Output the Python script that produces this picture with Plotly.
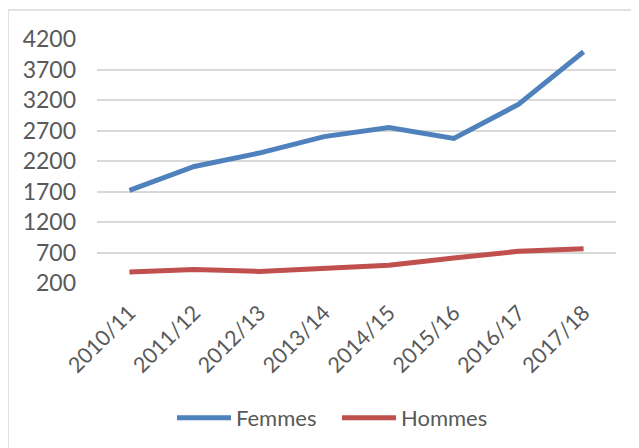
import plotly.graph_objects as go

categories = ["2010/11", "2011/12", "2012/13", "2013/14", "2014/15", "2015/16", "2016/17", "2017/18"]
femmes = [1720, 2110, 2330, 2600, 2750, 2570, 3130, 3990]
hommes = [380, 420, 390, 440, 490, 610, 720, 760]
y_ticks = [200, 700, 1200, 1700, 2200, 2700, 3200, 3700, 4200]

FONT = "Lato"
GRAY = "#595959"

fig = go.Figure()
fig.add_trace(go.Scatter(x=categories, y=femmes, mode="lines", name="Femmes",
                         line=dict(color="#4F81BD", width=5)))
fig.add_trace(go.Scatter(x=categories, y=hommes, mode="lines", name="Hommes",
                         line=dict(color="#C0504D", width=5)))

# page body has an 8px margin: work in screen pixels and offset
OFF = 8
W, H = 639, 448
PL, PT, PW, PH = 97, 39, 519, 244          # plot area in screen px
L, T = PL - OFF, PT - OFF
R = W - L - PW
B = H - T - PH

def px_x(x):
    return (x - PL) / PW

def px_y(y):
    return (PT + PH - y) / PH

fig.update_layout(
    width=W, height=H,
    margin=dict(l=L, r=R, t=T, b=B),
    paper_bgcolor="white", plot_bgcolor="white",
    font=dict(family=FONT, size=22, color=GRAY),
    showlegend=True,
    legend=dict(orientation="h", x=px_x(172), xanchor="left", y=px_y(418), yanchor="middle",
                font=dict(family=FONT, size=22, color=GRAY), itemwidth=54,
                entrywidth=96, entrywidthmode="pixels",
                traceorder="normal", bgcolor="rgba(0,0,0,0)"),
    xaxis=dict(type="category", range=[-0.5, 7.5], showgrid=False, showline=False, zeroline=False,
               tickangle=-45, tickfont=dict(family=FONT, size=21.5, color=GRAY),
               ticklabelstandoff=12),
    yaxis=dict(range=[200, 4200], tickvals=y_ticks, showgrid=True, gridcolor="#D9D9D9", gridwidth=1.5,
               zeroline=False, showline=False, tickfont=dict(family=FONT, size=23, color=GRAY),
               ticklabelstandoff=20),
    shapes=[dict(type="rect", xref="paper", yref="paper",
                 x0=px_x(8), x1=px_x(660), y0=px_y(470), y1=px_y(10),
                 line=dict(color="#D9D9D9", width=1.5), fillcolor="rgba(0,0,0,0)", layer="below")],
)

fig.write_html("out.html")
